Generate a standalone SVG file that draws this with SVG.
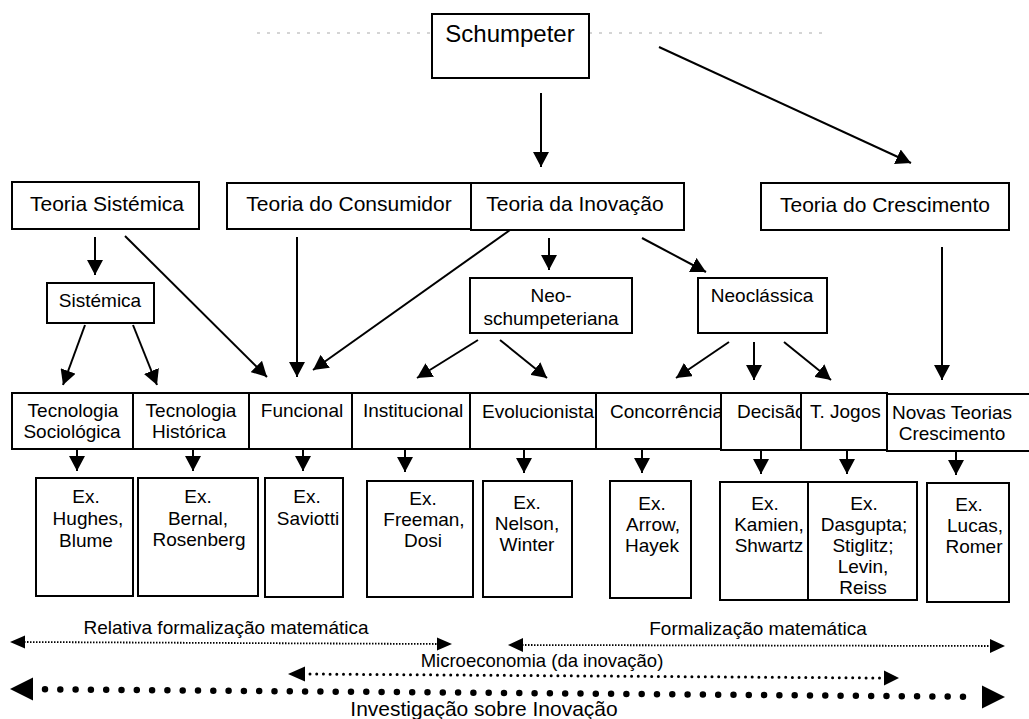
<svg xmlns="http://www.w3.org/2000/svg" width="1029" height="719" viewBox="0 0 1029 719">
  <defs>
    <style>
      .box{fill:#fff;stroke:#000;stroke-width:2}
      text{font-family:"Liberation Sans",Arial,sans-serif;fill:#000}
      .t24{font-size:24px}
      .t21{font-size:21px}
      .t19{font-size:19px}
      .t18{font-size:18.5px}
      .c{text-anchor:middle}
      .con{stroke:#000;stroke-width:2;fill:none;marker-end:url(#ah)}
      .fine{stroke:#000;stroke-width:1.8;fill:none;stroke-dasharray:1.5 1.5}
      .dots{stroke:#000;stroke-width:3;fill:none;stroke-linecap:round;stroke-dasharray:0 6.7}
      .bigdots{stroke:#000;stroke-width:6.5;fill:none;stroke-linecap:round;stroke-dasharray:0 15.3}
      .head{fill:#000}
    </style>
    <marker id="ah" markerUnits="userSpaceOnUse" markerWidth="16" markerHeight="16" refX="15" refY="8" orient="auto">
      <path d="M0,0L15,8L0,16z" fill="#000"/>
    </marker>
  </defs>

  <rect width="1029" height="719" fill="#fff"/>

  <!-- faint rule behind the top box -->
  <g id="rule" stroke="#aaa" stroke-width="1" stroke-dasharray="3 7" fill="none">
    <line x1="257" y1="33" x2="432" y2="33"/>
    <line x1="589" y1="33" x2="829" y2="33"/>
  </g>

  <!-- top level -->
  <g id="schumpeter">
    <rect class="box" x="432" y="14" width="157" height="64"/>
    <text class="t24 c" x="510" y="42">Schumpeter</text>
  </g>

  <!-- second level -->
  <g id="teoria-sistemica">
    <rect class="box" x="12" y="182" width="187" height="47"/>
    <text class="t21 c" x="107" y="211">Teoria Sistémica</text>
  </g>
  <g id="teoria-consumidor">
    <rect class="box" x="227" y="183" width="244" height="46"/>
    <text class="t21 c" x="349" y="211">Teoria do Consumidor</text>
  </g>
  <g id="teoria-inovacao">
    <rect class="box" x="471" y="183" width="213" height="47"/>
    <text class="t21 c" x="575" y="211">Teoria da Inovação</text>
  </g>
  <g id="teoria-crescimento">
    <rect class="box" x="761" y="183" width="248" height="47"/>
    <text class="t21 c" x="885" y="212">Teoria do Crescimento</text>
  </g>

  <!-- third level -->
  <g id="sistemica">
    <rect class="box" x="47" y="283" width="107" height="40"/>
    <text class="t19 c" x="100" y="307">Sistémica</text>
  </g>
  <g id="neo-schumpeteriana">
    <rect class="box" x="470" y="278" width="162" height="55"/>
    <text class="t19 c" x="551" y="302">Neo-</text>
    <text class="t19 c" x="551" y="325">schumpeteriana</text>
  </g>
  <g id="neoclassica">
    <rect class="box" x="698" y="278" width="129" height="55"/>
    <text class="t19 c" x="762" y="302">Neoclássica</text>
  </g>

  <!-- fourth level: adjoining cells, each later cell masks overflow of the previous one -->
  <g id="tec-sociologica">
    <rect class="box" x="12" y="393" width="121" height="56"/>
    <text class="t19 c" x="73" y="417">Tecnologia</text>
    <text class="t19 c" x="72" y="438">Sociológica</text>
  </g>
  <g id="tec-historica">
    <rect class="box" x="133" y="393" width="116" height="56"/>
    <text class="t19 c" x="191" y="417">Tecnologia</text>
    <text class="t19 c" x="189" y="438">Histórica</text>
  </g>
  <g id="funcional">
    <rect class="box" x="249" y="393" width="103" height="56"/>
    <text class="t19 c" x="302" y="417">Funcional</text>
  </g>
  <g id="institucional">
    <rect class="box" x="352" y="393" width="118" height="56"/>
    <text class="t19" x="363" y="417">Institucional</text>
  </g>
  <g id="evolucionista">
    <rect class="box" x="470" y="393" width="126" height="56"/>
    <text class="t19" x="482" y="418">Evolucionista</text>
  </g>
  <g id="concorrencia">
    <rect class="box" x="596" y="393" width="125" height="56"/>
    <text class="t19" x="610" y="418">Concorrência</text>
  </g>
  <g id="decisao">
    <rect class="box" x="721" y="393" width="80" height="57"/>
    <text class="t19" x="737" y="418">Decisão</text>
  </g>
  <g id="t-jogos">
    <rect class="box" x="801" y="393" width="86" height="57"/>
    <text class="t19" x="810" y="418">T. Jogos</text>
  </g>
  <g id="novas-teorias">
    <rect class="box" x="887" y="394" width="146" height="57"/>
    <text class="t19 c" x="952" y="419">Novas Teorias</text>
    <text class="t19 c" x="952" y="440">Crescimento</text>
  </g>

  <!-- fifth level: examples -->
  <g id="ex-hughes">
    <rect class="box" x="36" y="478" width="97" height="118"/>
    <text class="t19 c" x="86" y="503">Ex.</text>
    <text class="t19 c" x="88" y="525">Hughes,</text>
    <text class="t19 c" x="86" y="547">Blume</text>
  </g>
  <g id="ex-bernal">
    <rect class="box" x="138" y="478" width="120" height="118"/>
    <text class="t19 c" x="198" y="503">Ex.</text>
    <text class="t19 c" x="198" y="525">Bernal,</text>
    <text class="t19 c" x="199" y="546">Rosenberg</text>
  </g>
  <g id="ex-saviotti">
    <rect class="box" x="265" y="478" width="78" height="119"/>
    <text class="t19 c" x="307" y="503">Ex.</text>
    <text class="t19 c" x="308" y="525">Saviotti</text>
  </g>
  <g id="ex-freeman">
    <rect class="box" x="367" y="481" width="106" height="116"/>
    <text class="t19 c" x="423" y="505">Ex.</text>
    <text class="t19 c" x="424" y="526">Freeman,</text>
    <text class="t19 c" x="423" y="547">Dosi</text>
  </g>
  <g id="ex-nelson">
    <rect class="box" x="483" y="481" width="89" height="116"/>
    <text class="t19 c" x="527" y="509">Ex.</text>
    <text class="t19 c" x="527" y="530">Nelson,</text>
    <text class="t19 c" x="527" y="551">Winter</text>
  </g>
  <g id="ex-arrow">
    <rect class="box" x="610" y="481" width="81" height="117"/>
    <text class="t19 c" x="652" y="510">Ex.</text>
    <text class="t19 c" x="653" y="531">Arrow,</text>
    <text class="t19 c" x="652" y="552">Hayek</text>
  </g>
  <g id="ex-kamien">
    <rect class="box" x="720" y="482" width="88" height="118"/>
    <text class="t19 c" x="765" y="510">Ex.</text>
    <text class="t19 c" x="769" y="531">Kamien,</text>
    <text class="t19 c" x="769" y="552">Shwartz</text>
  </g>
  <g id="ex-dasgupta">
    <rect class="box" x="808" y="482" width="109" height="118"/>
    <text class="t19 c" x="864" y="510">Ex.</text>
    <text class="t19 c" x="864" y="531">Dasgupta;</text>
    <text class="t19 c" x="863" y="552">Stiglitz;</text>
    <text class="t19 c" x="863" y="573">Levin,</text>
    <text class="t19 c" x="863" y="594">Reiss</text>
  </g>
  <g id="ex-lucas">
    <rect class="box" x="927" y="483" width="82" height="119"/>
    <text class="t19 c" x="969" y="511">Ex.</text>
    <text class="t19 c" x="975" y="532">Lucas,</text>
    <text class="t19 c" x="974" y="553">Romer</text>
  </g>

  <!-- connectors -->
  <g id="connectors">
    <path class="con" d="M541,93L541,167"/>
    <path class="con" d="M659,47L911,163"/>
    <path class="con" d="M95,237L95,275"/>
    <path class="con" d="M125,236L267,377"/>
    <path class="con" d="M297,237L297,377"/>
    <path class="con" d="M510,230L313,370"/>
    <path class="con" d="M85,325L63,385"/>
    <path class="con" d="M133,325L157,385"/>
    <path class="con" d="M549,238L549,270"/>
    <path class="con" d="M642,238L706,272"/>
    <path class="con" d="M478,340L417,378"/>
    <path class="con" d="M500,340L547,378"/>
    <path class="con" d="M729,342L676,378"/>
    <path class="con" d="M754,342L754,380"/>
    <path class="con" d="M784,342L831,380"/>
    <path class="con" d="M942,247L942,380"/>
    <path class="con" d="M77,449L77,471"/>
    <path class="con" d="M193,449L193,471"/>
    <path class="con" d="M303,449L303,471"/>
    <path class="con" d="M405,449L405,472"/>
    <path class="con" d="M524,450L524,473"/>
    <path class="con" d="M642,450L642,473"/>
    <path class="con" d="M761,451L761,474"/>
    <path class="con" d="M847,451L847,474"/>
    <path class="con" d="M956,452L956,475"/>
  </g>

  <!-- scale ranges along the bottom -->
  <g id="ranges">
    <line class="fine" x1="24" y1="642" x2="438" y2="644"/>
    <polygon class="head" points="10,642 25,635.5 25,648.5"/>
    <polygon class="head" points="437,637.5 452,644 437,650.5"/>
    <text class="t19 c" x="226" y="634">Relativa formalização matemática</text>

    <line class="fine" x1="522" y1="645" x2="991" y2="646"/>
    <polygon class="head" points="508,645 523,638 523,652"/>
    <polygon class="head" points="990,639 1005,646 990,653"/>
    <text class="t19 c" x="758" y="635">Formalização matemática</text>

    <line class="dots" x1="310" y1="674" x2="880" y2="678"/>
    <polygon class="head" points="288,674 305,666.5 305,681.5"/>
    <polygon class="head" points="884,670.5 899,678 884,685.5"/>
    <text class="t18 c" x="542" y="667">Microeconomia (da inovação)</text>

    <line class="bigdots" x1="45" y1="689.3" x2="970" y2="696.7"/>
    <polygon class="head" points="10,689 33,677.5 33,700.5"/>
    <polygon class="head" points="982,685.5 1005,697 982,708.5"/>
    <text class="t21 c" x="484" y="716">Investigação sobre Inovação</text>
  </g>
</svg>
